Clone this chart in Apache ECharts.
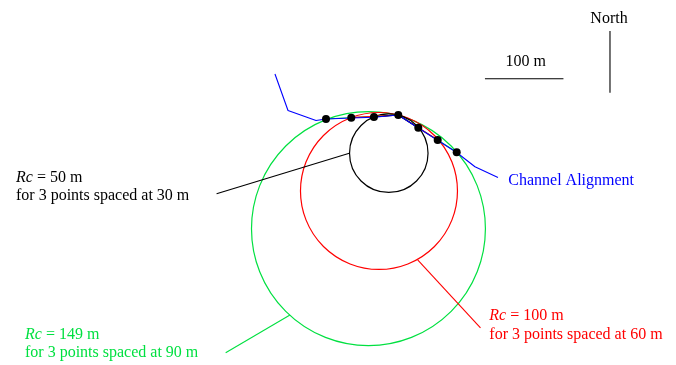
<!DOCTYPE html>
<html>
<head>
<meta charset="utf-8">
<script src="https://cdn.jsdelivr.net/npm/echarts@6/dist/echarts.min.js"></script>
<style>html,body{margin:0;padding:0;background:#fff}#c{width:676px;height:365px}</style>
</head>
<body>
<div id="c"></div>
<script>
// All coordinates in metres, origin at the 4th survey point (apex)
const surveyPoints = [[-92.1,-5.1],[-59.9,-3.4],[-31.0,-2.5],[0,0],[25.5,-16.2],[50.2,-31.8],[74.4,-47.5]];
const channelAlignment = [[-157.1,52.2],[-140.5,5.7],[-104.8,-7.0],[-92.1,-5.1],[-59.9,-3.8],[-31.0,-2.8],[0,0],[25.5,-16.6],[50.2,-32.2],[74.4,-47.8],[97.7,-65.9],[127.0,-79.6]];
// circles: centre x, centre y, radius (m)
const circle50 = [-12.1,-48.7,50];
const circle100 = [-24.6,-96.8,100];
const circle149 = [-38.0,-144.8,149];
const chord50 = [[-31.0,-2.5],[0,0],[25.5,-16.2]];
const chord100 = [[-59.9,-3.4],[0,0],[50.2,-31.8]];
const chord149 = [[-92.1,-5.1],[0,0],[74.4,-47.5]];
const leader50 = [[-231.5,-100.3],[-62.4,-48.8]];
const leader100 = [[24.7,-184.7],[104.7,-271.3]];
const leader149 = [[-138.0,-254.8],[-219.9,-302.8]];
const scaleBar = [[110.4,46.2],[210.4,46.2]];
const northArrow = [[269.7,107.0],[269.7,28.4]];

const GREEN = '#00e040';
const FONT = '"Liberation Serif", "Times New Roman", serif';

function lineSeries(data, color, z) {
  return {type:'line', data:data, symbol:'none', silent:true, z:z||2,
    lineStyle:{color:color, width:1.1}, animation:false};
}
function circleSeries(c, color) {
  return {type:'custom', data:[c], silent:true, animation:false, z:2,
    renderItem: function(params, api){
      const p = api.coord([api.value(0), api.value(1)]);
      const r = api.size([api.value(2), 0])[0];
      return {type:'circle', shape:{cx:p[0], cy:p[1], r:r},
        style:{fill:'none', stroke:color, lineWidth:1.2}};
    }};
}
function label(x, y, lines, color, align) {
  return lines.map((t, i) => ({
    type:'text', x:x, y:y + i*18.7, z:10,
    style:{text:t, fill:color, font:'16px ' + FONT, textAlign:align||'left', textVerticalAlign:'middle',
      rich:{i:{fontStyle:'italic', fontSize:16, fontFamily:FONT, fill:color}, n:{fontSize:16, fontFamily:FONT, fill:color}}}
  }));
}

const chart = echarts.init(document.getElementById('c'));
chart.setOption({
  animation:false,
  grid:{left:0, top:0, width:676, height:365},
  xAxis:{type:'value', min:-507.4, max:353.8, show:false},
  yAxis:{type:'value', min:-318.5, max:146.5, show:false},
  series:[
    circleSeries(circle149, GREEN),
    circleSeries(circle100, '#ff0000'),
    circleSeries(circle50, '#000000'),
    lineSeries(chord149, GREEN, 3),
    lineSeries(chord100, '#ff0000', 3),
    lineSeries(chord50, '#000000', 3),
    lineSeries(channelAlignment, '#0000ff', 4),
    lineSeries(leader50, '#000000'),
    lineSeries(leader100, '#ff0000'),
    lineSeries(leader149, GREEN),
    lineSeries(scaleBar, '#000000'),
    lineSeries(northArrow, '#000000'),
    {type:'scatter', data:surveyPoints, symbol:'circle', symbolSize:8, z:6, silent:true,
      itemStyle:{color:'#000', opacity:1}, animation:false}
  ],
  graphic: [].concat(
    label(16, 177.3, ['{i|Rc}{n| = 50 m}', '{n|for 3 points spaced at 30 m}'], '#000000'),
    label(489.3, 316, ['{i|Rc}{n| = 100 m}', '{n|for 3 points spaced at 60 m}'], '#ff0000'),
    label(25, 334.3, ['{i|Rc}{n| = 149 m}', '{n|for 3 points spaced at 90 m}'], GREEN),
    label(508.3, 180.5, ['{n|Channel Alignment}'], '#0000ff'),
    label(525.7, 62, ['{n|100 m}'], '#000000', 'center'),
    label(609, 19, ['{n|North}'], '#000000', 'center')
  )
});
</script>
</body>
</html>
